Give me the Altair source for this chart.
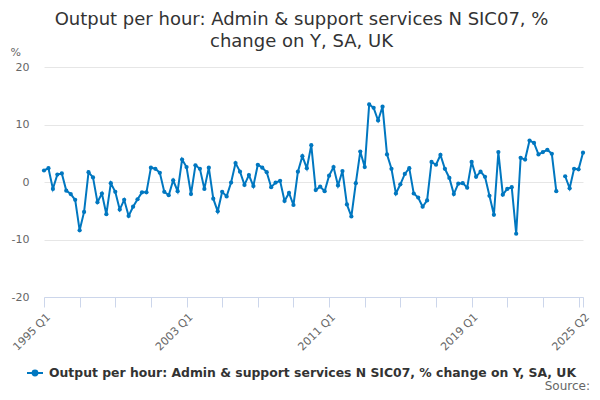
import altair as alt
import pandas as pd

# ---- data ----
start_year = 1995
n_quarters = 122
quarters = [f"{start_year + i // 4} Q{i % 4 + 1}" for i in range(n_quarters)]

values = [
    2.0, 2.4, -1.2, 1.3, 1.5, -1.5, -2.1, -3.1,
    -8.4, -5.2, 1.7, 0.8, -3.5, -2.0, -5.6, -0.2,
    -1.7, -4.8, -3.1, -5.9, -4.3, -3.0, -1.8, -1.8,
    2.5, 2.3, 1.6, -1.7, -2.3, 0.3, -1.6, 3.9,
    2.6, -2.1, 2.9, 2.3, -1.2, 2.5, -2.9, -5.1,
    -1.7, -2.5, -0.1, 3.3, 1.8, -0.5, 1.2, -0.7,
    3.0, 2.5, 1.7, -0.9, -0.1, 0.2, -3.3, -1.9,
    -4.0, 1.8, 4.5, 2.4, 6.4, -1.4, -0.8, -1.6,
    1.1, 2.6, -0.6, 1.9, -3.9, -6.0, -0.2, 5.3,
    2.6, 13.5, 12.9, 10.7, 13.1, 4.8, 2.3, -2.0,
    -0.4, 1.4, 2.4, -2.0, -2.7, -4.3, -3.2, 3.5,
    3.0, 4.7, 2.3, 0.7, -2.1, -0.3, -0.2, -1.0,
    3.5, 0.9, 1.8, 0.9, -2.4, -5.7, 5.2, -2.2,
    -1.2, -0.9, -9.0, 4.2, 3.9, 7.2, 6.8, 4.8,
    5.2, 5.6, 4.9, -1.6, None, 1.0, -1.1, 2.3,
    2.2, 5.1,
]

tick_labels = ["1995 Q1", "2003 Q1", "2011 Q1", "2019 Q1", "2025 Q2"]
series_name = "Output per hour: Admin & support services N SIC07, % change on Y, SA, UK"
title_lines = ["Output per hour: Admin & support services N SIC07, %", "change on Y, SA, UK"]
y_ticks = [-20, -10, 0, 10, 20]
source_text = ["Source:"]

df = pd.DataFrame({
    "idx": list(range(n_quarters)),
    "quarter": quarters,
    "value": values,
    "series": [series_name] * n_quarters,
})
src_df = pd.DataFrame({"label": source_text})

tick_values = list(range(0, n_quarters, 8)) + [n_quarters - 1]
expr = "''"
for v in tick_values:
    if quarters[v] in tick_labels:
        expr = f"datum.value == {v} ? '{quarters[v]}' : ({expr})"

FONT = "DejaVu Sans"
COLOR = "#0077c0"
W, H = 539, 230

chart = alt.Chart(df).mark_line(
    strokeWidth=2,
    point=alt.OverlayMarkDef(filled=True, size=18),
).encode(
    x=alt.X(
        "idx:Q",
        scale=alt.Scale(domain=[0, n_quarters - 1], nice=False, zero=False),
        axis=alt.Axis(
            values=tick_values,
            labelExpr=expr,
            labelAngle=-45,
            labelAlign="right",
            labelBaseline="top",
            labelOverlap=False,
            labelPadding=4,
            labelFontSize=11,
            labelColor="#666666",
            labelFont=FONT,
            grid=False,
            domainColor="#ccd6eb",
            tickColor="#ccd6eb",
            tickSize=10,
            title=None,
        ),
    ),
    y=alt.Y(
        "value:Q",
        scale=alt.Scale(domain=[-20, 20], nice=False),
        axis=alt.Axis(
            values=y_ticks,
            labelExpr="'' + datum.value",
            domain=False,
            ticks=False,
            gridColor="#e6e6e6",
            labelFontSize=11,
            labelColor="#666666",
            labelFont=FONT,
            labelPadding=15,
            title="%",
            titleAngle=0,
            titleAlign="left",
            titleBaseline="bottom",
            titleX=-34,
            titleY=-10,
            titleFontSize=11,
            titleFontWeight="normal",
            titleColor="#666666",
            titleFont=FONT,
        ),
    ),
    color=alt.Color(
        "series:N",
        scale=alt.Scale(range=[COLOR]),
        legend=alt.Legend(
            title=None,
            orient="none",
            legendX=-18,
            legendY=297,
            symbolType="M-1,0H1M0.3,0A0.3,0.3 0 1 1 -0.3,0A0.3,0.3 0 1 1 0.3,0",
            symbolSize=256,
            symbolStrokeWidth=2,
            symbolFillColor=COLOR,
            symbolStrokeColor=COLOR,
            labelFont=FONT,
            labelFontSize=12.4,
            labelFontWeight="bold",
            labelColor="#333333",
            labelLimit=0,
            labelOffset=5,
            padding=0,
        ),
    ),
)

source = alt.Chart(src_df).mark_text(
    align="right", baseline="alphabetic", font=FONT, fontSize=12, color="#666666"
).encode(text="label:N", x=alt.value(W + 7), y=alt.value(H + 93))

final = alt.layer(chart, source).properties(
    width=W,
    height=H,
    title=alt.TitleParams(
        text=title_lines,
        font=FONT,
        fontSize=18,
        fontWeight="normal",
        color="#333333",
        anchor="middle",
        lineHeight=22,
        offset=-5,
        dx=-12,
    ),
    padding={"left": 36, "top": 59, "right": 9, "bottom": 95},
    autosize=alt.AutoSizeParams(type="none"),
).configure_view(stroke=None)

final.save("out.html", embed_options={"renderer": "svg", "actions": False})
